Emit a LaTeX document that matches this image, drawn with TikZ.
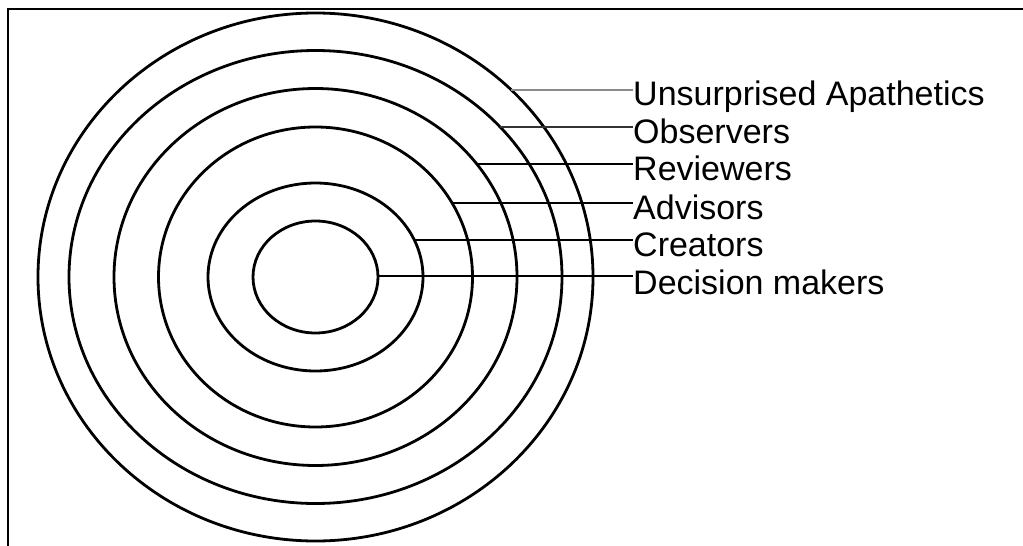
\documentclass[tikz,border=0pt]{standalone}
\usepackage{fontspec}
\setmainfont{Liberation Sans}
\begin{document}
\begin{tikzpicture}[x=1pt,y=-1pt,
  ring/.style={draw=black,line width=2.8pt},
  lead/.style={draw=black,line width=1.9pt},
  lbl/.style={anchor=base west,inner sep=0pt,font=\fontsize{34}{40}\selectfont,text=black}]
\useasboundingbox (0,0) rectangle (1023,546);
\fill[white] (0,0) rectangle (1023,546);
% frame
\draw[line width=2pt] (8,546) -- (8,9) -- (1023,9);
% rings
\coordinate (c) at (315.5,277);
\draw[ring] (c) ellipse [x radius=277.5pt, y radius=264pt];
\draw[ring] (c) ellipse [x radius=246.5pt, y radius=226.5pt];
\draw[ring] (c) ellipse [x radius=201.5pt, y radius=188.5pt];
\draw[ring] (c) ellipse [x radius=157pt, y radius=150pt];
\draw[ring] (c) ellipse [x radius=107.5pt, y radius=94pt];
\draw[ring] (c) ellipse [x radius=62.5pt, y radius=56pt];
% start points of leaders on the rings
\coordinate (s1) at (511.4,90);
\coordinate (s2) at (500.2,127);
\coordinate (s3) at (476.8,164);
\coordinate (s4) at (452.1,203);
\coordinate (s5) at (414.3,240);
\coordinate (s6) at (378,276);
% labels
\node[lbl] (t1) at (633,105) {Unsurprised Apathetics};
\node[lbl] (t2) at (633,143) {Observers};
\node[lbl] (t3) at (633,180) {Reviewers};
\node[lbl] (t4) at (633,219) {Advisors};
\node[lbl] (t5) at (633,256) {Creators};
\node[lbl] (t6) at (633,294) {Decision makers};
% leaders
\draw[lead,draw=black!45] (s1) -- (s1 -| t1.west);
\draw[lead,draw=black!80] (s2) -- (s2 -| t2.west);
\draw[lead,line width=2.3pt] (s3) -- (s3 -| t3.west);
\draw[lead] (s4) -- (s4 -| t4.west);
\draw[lead] (s5) -- (s5 -| t5.west);
\draw[lead,line width=1.5pt] (s6) -- (s6 -| t6.west);
\end{tikzpicture}
\end{document}
